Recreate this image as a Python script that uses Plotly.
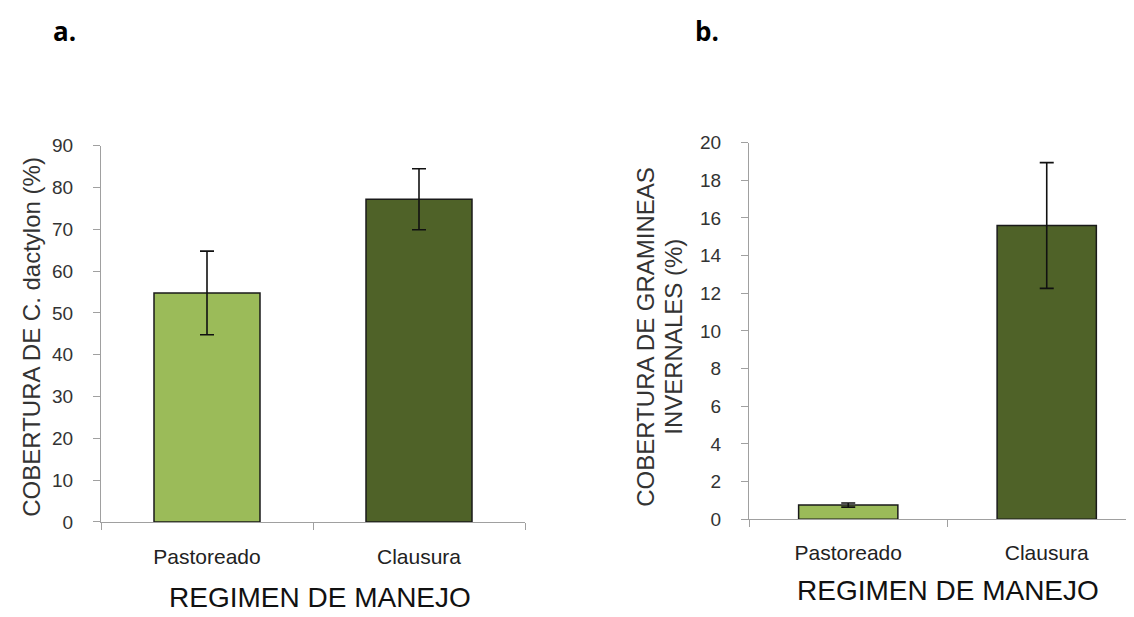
import plotly.graph_objects as go

# ---- data ----
categories = ["Pastoreado", "Clausura"]
cover_cdactylon = [54.8, 77.2]
cover_cdactylon_err = [10.0, 7.3]
cover_gramineas = [0.76, 15.6]
cover_gramineas_err = [0.11, 3.34]
bar_colors = ["#9BBB59", "#4F6228"]

W, H = 1134, 617
def px(x):
    return x / W
def py(y):
    return 1 - y / H

AXIS_COLOR = "#A0A0A0"
TICK_FONT = dict(family="Liberation Sans, Arial, sans-serif", size=19, color="#333333")
CAT_FONT = dict(family="Liberation Sans, Arial, sans-serif", size=21, color="#222222")

fig = go.Figure()
fig.add_trace(go.Bar(
    x=categories, y=cover_cdactylon,
    marker=dict(color=bar_colors, line=dict(color="#1a1a1a", width=1.5)),
    error_y=dict(type="data", array=cover_cdactylon_err, color="#111111", thickness=1.6, width=7),
    xaxis="x", yaxis="y", showlegend=False,
))
fig.add_trace(go.Bar(
    x=categories, y=cover_gramineas,
    marker=dict(color=bar_colors, line=dict(color="#1a1a1a", width=1.5)),
    error_y=dict(type="data", array=cover_gramineas_err, color="#111111", thickness=1.6, width=7),
    xaxis="x2", yaxis="y2", showlegend=False,
))

common_x = dict(type="category", tickson="boundaries", ticks="outside", ticklen=7,
                tickcolor=AXIS_COLOR, showline=True, linecolor=AXIS_COLOR, linewidth=1,
                showgrid=False, zeroline=False, tickfont=CAT_FONT)
common_y = dict(ticks="outside", ticklen=7, tickcolor=AXIS_COLOR, showline=True,
                linecolor=AXIS_COLOR, linewidth=1, showgrid=False, zeroline=False,
                tickfont=TICK_FONT, ticklabelstandoff=16)

fig.update_layout(
    width=W, height=H, margin=dict(l=0, r=0, t=0, b=0),
    paper_bgcolor="white", plot_bgcolor="white",
    bargap=0.5,
    xaxis=dict(domain=[px(93), px(517)], anchor="y", range=[-0.5, 1.5],
               ticklabelstandoff=16, **common_x),
    yaxis=dict(domain=[py(521.7), py(132.3)], anchor="x", range=[0, 90], dtick=10, **common_y),
    xaxis2=dict(domain=[px(741), 1.0], anchor="y2", range=[-0.5, 1.48],
                ticklabelstandoff=14, **common_x),
    yaxis2=dict(domain=[py(519), py(129)], anchor="x2", range=[0, 20], dtick=2, **common_y),
)

TITLE_FONT = dict(family="Liberation Sans, Arial, sans-serif", size=24, color="#333333")
XT_FONT = dict(family="Liberation Sans, Arial, sans-serif", size=28, color="#111111")
LET_FONT = dict(family="Open Sans, Lato, sans-serif", size=26, color="#000000")

ann = [
    dict(text="<b>a.</b>", x=px(43), y=py(34), xanchor="left", yanchor="bottom", font=LET_FONT),
    dict(text="<b>b.</b>", x=px(685), y=py(34), xanchor="left", yanchor="bottom", font=LET_FONT),
    dict(text="COBERTURA DE C. dactylon (%)", x=px(24), y=py(330), textangle=-90,
         xanchor="center", yanchor="middle", font=TITLE_FONT),
    dict(text="COBERTURA DE GRAMINEAS", x=px(638), y=py(330), textangle=-90,
         xanchor="center", yanchor="middle", font=TITLE_FONT),
    dict(text="INVERNALES (%)", x=px(666), y=py(330), textangle=-90,
         xanchor="center", yanchor="middle", font=TITLE_FONT),
    dict(text="REGIMEN DE MANEJO", x=px(312), y=py(600), xanchor="center", yanchor="middle", font=XT_FONT),
    dict(text="REGIMEN DE MANEJO", x=px(940), y=py(593), xanchor="center", yanchor="middle", font=XT_FONT),
]
for a in ann:
    a.update(xref="paper", yref="paper", showarrow=False)
fig.update_layout(annotations=ann)

fig.write_html("out.html")
